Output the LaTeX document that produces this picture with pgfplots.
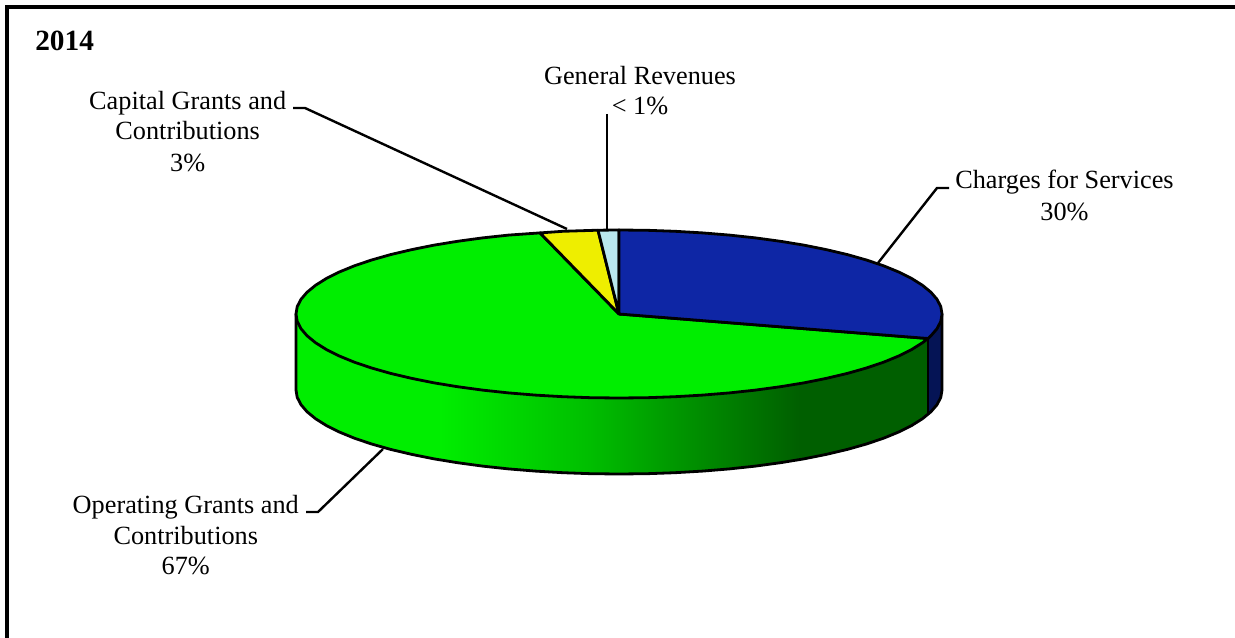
\documentclass[border=0pt]{standalone}
\usepackage{pgfplots}
\pgfplotsset{compat=1.18}
\usepackage{fontspec}
\setmainfont{Liberation Serif}
\definecolor{pBlue}{RGB}{14,38,165}
\definecolor{pBlueD}{RGB}{5,20,85}
\definecolor{pGreen}{RGB}{0,238,0}
\definecolor{pGreenM}{RGB}{0,190,0}
\definecolor{pGreenD}{RGB}{0,95,0}
\definecolor{pYellow}{RGB}{238,238,0}
\definecolor{pCyan}{RGB}{185,232,238}
\pgfdeclarehorizontalshading{wall}{100bp}{color(0bp)=(pGreen); color(36.4bp)=(pGreen); color(48.2bp)=(pGreenM); color(64.8bp)=(pGreenD); color(100bp)=(pGreenD)}
\newcommand{\lab}{\fontsize{19.7}{23.2}\selectfont}
\begin{document}
\begin{tikzpicture}[x=1pt,y=1pt]
\path[use as bounding box] (0,0) rectangle (926.25pt,478.5pt);
\begin{axis}[at={(0pt,0pt)},anchor=south west,
  scale only axis,width=926.25pt,height=478.5pt,
  xmin=0,xmax=1235,ymin=0,ymax=638,y dir=reverse,
  hide axis,clip=false]
% frame
\addplot[black,line width=2.4pt,mark=none] coordinates {(7,638) (7,7) (1235,7)};
% wall: blue
\addplot[fill=pBlueD,draw=none,mark=none] coordinates {
(942,314) (940.8,321.3) (937.1,328.6) (931.0,335.7) (928,338.5)
(928,414.5) (931.0,411.7) (937.1,404.6) (940.8,397.3) (942,390) (942,314)};
% wall: green
\addplot[shading=wall,draw=none,mark=none] coordinates {
(928,338.5) (922.5,342.7) (911.7,349.5) (898.7,356.0) (883.6,362.2) (866.4,368.0) (847.4,373.4) (826.6,378.3) (804.3,382.8) (780.5,386.7) (755.5,390.1) (729.5,392.9) (702.6,395.1) (675.1,396.7) (647.2,397.7) (619,398)
(590.8,397.7) (562.9,396.7) (535.4,395.1) (508.5,392.9) (482.5,390.1) (457.5,386.7) (433.7,382.8) (411.4,378.3) (390.6,373.4) (371.6,368.0) (354.4,362.2) (339.3,356.0) (326.3,349.5) (315.5,342.7) (307.0,335.7) (300.9,328.6) (297.2,321.3) (296,314)
(296,390) (297.2,397.3) (300.9,404.6) (307.0,411.7) (315.5,418.7) (326.3,425.5) (339.3,432.0) (354.4,438.2) (371.6,444.0) (390.6,449.4) (411.4,454.3) (433.7,458.8) (457.5,462.7) (482.5,466.1) (508.5,468.9) (535.4,471.1) (562.9,472.7) (590.8,473.7) (619,474)
(647.2,473.7) (675.1,472.7) (702.6,471.1) (729.5,468.9) (755.5,466.1) (780.5,462.7) (804.3,458.8) (826.6,454.3) (847.4,449.4) (866.4,444.0) (883.6,438.2) (898.7,432.0) (911.7,425.5) (922.5,418.7) (928,414.5) (928,338.5)};
% wall: outline
\addplot[black,line width=2.1pt,mark=none,line join=round,line cap=round] coordinates {
(296,314) (296,390) (297.2,397.3) (300.9,404.6) (307.0,411.7) (315.5,418.7) (326.3,425.5) (339.3,432.0) (354.4,438.2) (371.6,444.0) (390.6,449.4) (411.4,454.3) (433.7,458.8) (457.5,462.7) (482.5,466.1) (508.5,468.9) (535.4,471.1) (562.9,472.7) (590.8,473.7) (619,474)
(647.2,473.7) (675.1,472.7) (702.6,471.1) (729.5,468.9) (755.5,466.1) (780.5,462.7) (804.3,458.8) (826.6,454.3) (847.4,449.4) (866.4,444.0) (883.6,438.2) (898.7,432.0) (911.7,425.5) (922.5,418.7) (931.0,411.7) (937.1,404.6) (940.8,397.3) (942,390) (942,314)};
\addplot[black,line width=1.5pt,mark=none] coordinates {(928,338.5) (928,414.5)};
% top: Operating Grants and Contributions 67%
\addplot[fill=pGreen,draw=black,line width=2.1pt,mark=none,line join=round,line cap=round] coordinates {
(619,314) (928,338.5) (922.5,342.7) (911.7,349.5) (898.7,356.0) (883.6,362.2) (866.4,368.0) (847.4,373.4) (826.6,378.3) (804.3,382.8) (780.5,386.7) (755.5,390.1) (729.5,392.9) (702.6,395.1) (675.1,396.7) (647.2,397.7) (619,398)
(590.8,397.7) (562.9,396.7) (535.4,395.1) (508.5,392.9) (482.5,390.1) (457.5,386.7) (433.7,382.8) (411.4,378.3) (390.6,373.4) (371.6,368.0) (354.4,362.2) (339.3,356.0) (326.3,349.5) (315.5,342.7) (307.0,335.7) (300.9,328.6) (297.2,321.3) (296,314)
(297.2,306.7) (300.9,299.4) (307.0,292.3) (315.5,285.3) (326.3,278.5) (339.3,272.0) (354.4,265.8) (371.6,260.0) (390.6,254.6) (411.4,249.7) (433.7,245.2) (457.5,241.3) (482.5,237.9) (508.5,235.1) (540,232.9) (619,314)};
% top: Capital Grants and Contributions 3%
\addplot[fill=pYellow,draw=black,line width=2.1pt,mark=none,line join=round,line cap=round] coordinates {
(619,314) (540,232.9) (562.9,231.3) (598,230.2) (619,314)};
% top: General Revenues < 1%
\addplot[fill=pCyan,draw=black,line width=2.1pt,mark=none,line join=round,line cap=round] coordinates {
(619,314) (598,230.2) (619,230) (619,314)};
% top: Charges for Services 30%
\addplot[fill=pBlue,draw=black,line width=2.1pt,mark=none,line join=round,line cap=round] coordinates {
(619,314) (619,230) (647.2,230.3) (675.1,231.3) (702.6,232.9) (729.5,235.1) (755.5,237.9) (780.5,241.3) (804.3,245.2) (826.6,249.7) (847.4,254.6) (866.4,260.0) (883.6,265.8) (898.7,272.0) (911.7,278.5) (922.5,285.3) (931.0,292.3) (937.1,299.4) (940.8,306.7) (942,314) (940.8,321.3) (937.1,328.6) (931.0,335.7) (928,338.5) (619,314)};
% leaders
\addplot[black,line width=1.8pt,mark=none] coordinates {(949,188) (937,188) (878,263)};
\addplot[black,line width=1.8pt,mark=none] coordinates {(293,108) (305,108) (567,229)};
\addplot[black,line width=1.8pt,mark=none] coordinates {(607,114) (607,229)};
\addplot[black,line width=1.8pt,mark=none] coordinates {(306,512) (318,512) (383,449)};
% text
\node[anchor=base west,font=\fontsize{22}{26}\selectfont\bfseries,inner sep=0pt] at (axis cs:35,50.5) {2014};
\node[anchor=base,font=\lab,inner sep=0pt] at (axis cs:640,84.5) {General Revenues};
\node[anchor=base,font=\lab,inner sep=0pt] at (axis cs:640,115) {< 1\%};
\node[anchor=base,font=\lab,inner sep=0pt] at (axis cs:187.7,109.5) {Capital Grants and};
\node[anchor=base,font=\lab,inner sep=0pt] at (axis cs:187.7,140) {Contributions};
\node[anchor=base,font=\lab,inner sep=0pt] at (axis cs:187.7,171.5) {3\%};
\node[anchor=base,font=\lab,inner sep=0pt] at (axis cs:1064.5,188.5) {Charges for Services};
\node[anchor=base,font=\lab,inner sep=0pt] at (axis cs:1064.5,220) {30\%};
\node[anchor=base,font=\lab,inner sep=0pt] at (axis cs:185.8,513) {Operating Grants and};
\node[anchor=base,font=\lab,inner sep=0pt] at (axis cs:185.8,544) {Contributions};
\node[anchor=base,font=\lab,inner sep=0pt] at (axis cs:185.8,574) {67\%};
\end{axis}
\end{tikzpicture}
\end{document}
